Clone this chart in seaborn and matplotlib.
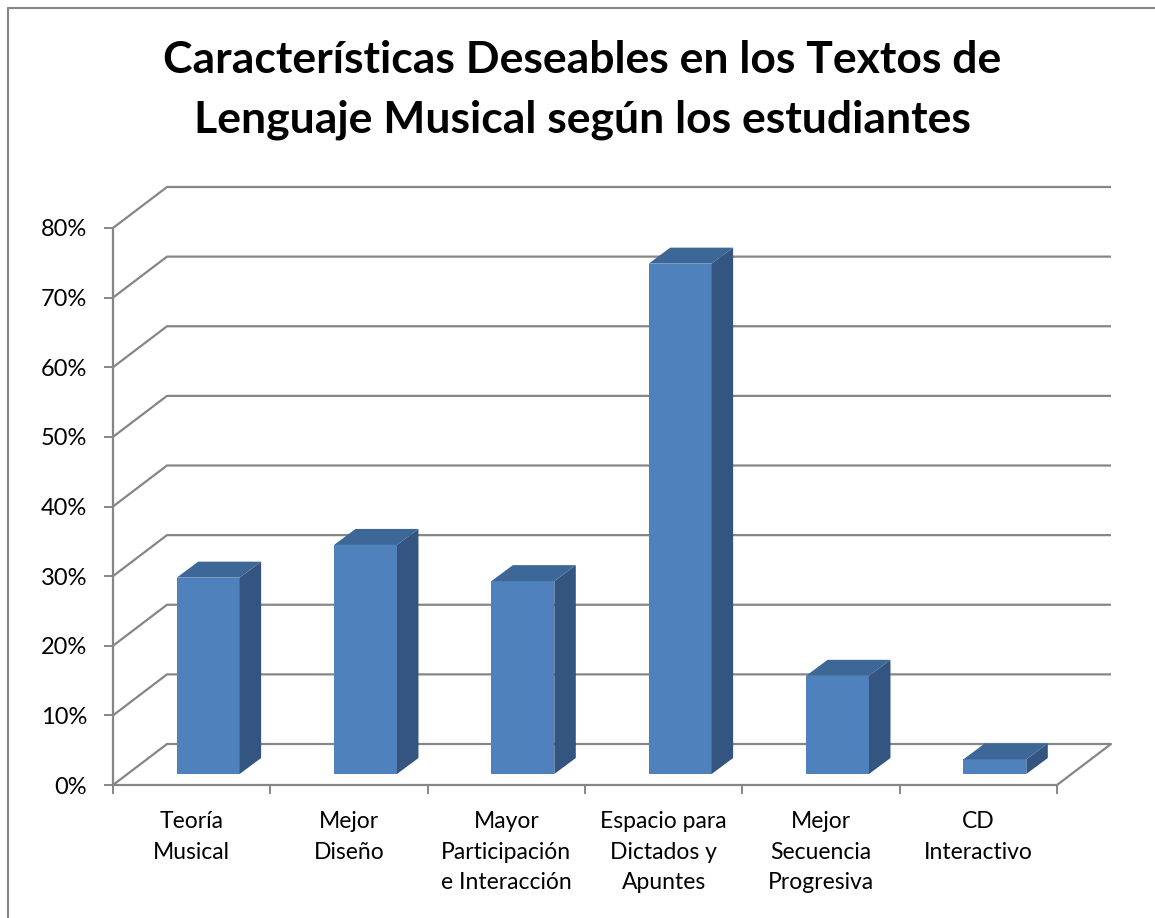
import matplotlib.pyplot as plt
import matplotlib.lines as mlines
from matplotlib.patches import Polygon
import seaborn as sns
import pandas as pd
import numpy as np

# data
categories = ["Teoría\nMusical", "Mejor\nDiseño", "Mayor\nParticipación\ne Interacción",
              "Espacio para\nDictados y\nApuntes", "Mejor\nSecuencia\nProgresiva", "CD\nInteractivo"]
values = [0.282, 0.329, 0.277, 0.733, 0.141, 0.021]
yticks = [0.0, 0.1, 0.2, 0.3, 0.4, 0.5, 0.6, 0.7, 0.8]
title = "Características Deseables en los Textos de\nLenguaje Musical según los estudiantes"

front_col = "#4F81BD"
side_col = "#335580"
top_col = "#3D6797"
grid_col = "#868686"

sns.set_theme(style="white")
plt.rcParams['font.family'] = ['Lato', 'DejaVu Sans']

W, H = 1155, 918
fig = plt.figure(figsize=(W / 100, H / 100), dpi=100)
ax = fig.add_axes([113 / W, (H - 785) / H, (1057 - 113) / W, (785 - 228) / H])

df = pd.DataFrame({"cat": categories, "val": values})
sns.barplot(data=df, x="cat", y="val", color=front_col, saturation=1, width=0.4,
            ax=ax, zorder=3)
ax.set_xlim(-0.5, len(categories) - 0.5)
ax.set_ylim(0, 0.8)

# pixel -> data conversion for the fake 3D depth
p0 = ax.transData.transform((0, 0))
p1 = ax.transData.transform((1, 1))
kx, ky = p1[0] - p0[0], p1[1] - p0[1]
fx, fy = 16.5 / kx, 11 / ky      # bar front plane offset
dx, dy = 21.5 / kx, 16 / ky      # bar depth
bx, by = 54 / kx, 41 / ky        # back wall offset

x_left, x_right = -0.5, len(categories) - 0.5

# walls and gridlines
for v in yticks:
    ax.plot([x_left, x_left + bx, x_right + bx], [v, v + by, v + by],
            color=grid_col, lw=1.6, zorder=1, clip_on=False, solid_capstyle='butt')
ax.plot([x_right, x_right + bx], [0, by], color=grid_col, lw=1.6, zorder=1, clip_on=False)

# bars: shift front faces and add side/top faces
for p in ax.patches:
    x0 = p.get_x() + fx
    h = p.get_height()
    x1 = x0 + p.get_width()
    p.set_x(x0)
    p.set_y(fy)
    p.set_edgecolor("none")
    p.set_clip_on(False)
    side = Polygon([(x1, fy), (x1, fy + h), (x1 + dx, fy + h + dy), (x1 + dx, fy + dy)],
                   closed=True, facecolor=side_col, edgecolor="none", zorder=3, clip_on=False)
    top = Polygon([(x0, fy + h), (x1, fy + h), (x1 + dx, fy + h + dy), (x0 + dx, fy + h + dy)],
                  closed=True, facecolor=top_col, edgecolor="none", zorder=3, clip_on=False)
    ax.add_patch(side)
    ax.add_patch(top)

# axes styling
for s in ["top", "right"]:
    ax.spines[s].set_visible(False)
for s in ["left", "bottom"]:
    ax.spines[s].set_color(grid_col)
    ax.spines[s].set_linewidth(1.6)
    ax.spines[s].set_zorder(2)

ax.set_yticks(yticks)
ax.set_yticklabels([f"{int(round(v * 100))}%" for v in yticks])
ax.tick_params(axis="y", length=6.5, width=1.4, color=grid_col, pad=12,
               labelsize=17, labelcolor="black", left=True)
ax.set_xticks(range(len(categories)))
ax.set_xticklabels(categories)
ax.set_xticks(np.arange(-0.5, len(categories)), minor=True)
ax.tick_params(axis="x", which="major", length=0, pad=19, labelsize=16.5, labelcolor="black")
ax.tick_params(axis="x", which="minor", length=6.5, width=1.4, color=grid_col, bottom=True)
for lab in ax.get_xticklabels():
    lab.set_linespacing(1.55)
ax.set_xlabel("")
ax.set_ylabel("")
ax.grid(False)

fig.text(582 / W, 1 - 40 / H, title, ha="center", va="top", fontsize=32,
         fontweight="bold", linespacing=1.6, color="black")

# chart area border (left and top visible)
fig.add_artist(mlines.Line2D([8 / W, 8 / W], [0, 1 - 8 / H], color=grid_col, lw=1.5,
                             transform=fig.transFigure))
fig.add_artist(mlines.Line2D([8 / W, 1], [1 - 8 / H, 1 - 8 / H], color=grid_col, lw=1.5,
                             transform=fig.transFigure))

fig.savefig("out.png", dpi=100, facecolor="white")
